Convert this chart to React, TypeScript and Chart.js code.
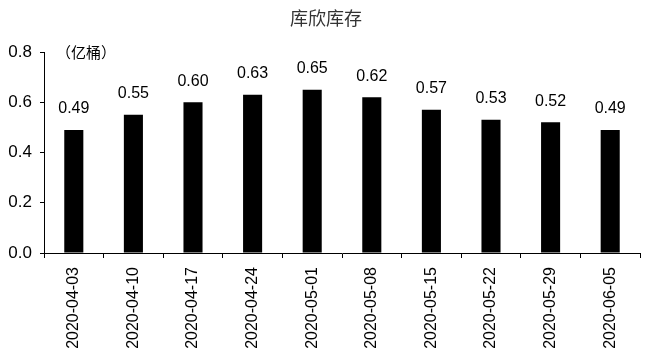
import React, { useEffect, useRef } from "react";
import { Chart, registerables } from "chart.js";

Chart.register(...registerables);

const categories = [
  "2020-04-03", "2020-04-10", "2020-04-17", "2020-04-24", "2020-05-01",
  "2020-05-08", "2020-05-15", "2020-05-22", "2020-05-29", "2020-06-05",
];
const inventory = [0.49, 0.55, 0.6, 0.63, 0.65, 0.62, 0.57, 0.53, 0.52, 0.49];
const titleText = "库欣库存";
const unitText = "（亿桶）";

const FONT = "'Liberation Sans', Arial, sans-serif";
const CJK = "'Noto Sans CJK SC', sans-serif";

const overlayPlugin = {
  id: "overlay",
  afterDatasetsDraw(chart: any) {
    const ctx = chart.ctx;
    const meta = chart.getDatasetMeta(0);
    ctx.save();
    ctx.fillStyle = "#000";
    ctx.font = `16px ${FONT}`;
    ctx.textAlign = "center";
    ctx.textBaseline = "middle";
    meta.data.forEach((bar: any, i: number) => {
      ctx.fillText(inventory[i].toFixed(2), bar.x, bar.y - 21);
    });
    // title
    ctx.fillStyle = "#333";
    ctx.font = `18px ${CJK}`;
    ctx.fillText(titleText, 326, 18);
    // unit
    ctx.fillStyle = "#000";
    ctx.font = `15px ${CJK}`;
    ctx.textAlign = "left";
    ctx.fillText(unitText, 56, 52);
    ctx.restore();
  },
};

export default function App() {
  const ref = useRef<HTMLCanvasElement | null>(null);
  useEffect(() => {
    document.body.style.margin = "0";
    const chart = new Chart(ref.current as HTMLCanvasElement, {
      type: "bar",
      data: {
        labels: categories,
        datasets: [
          {
            data: inventory,
            backgroundColor: "#000",
            borderWidth: 0,
            categoryPercentage: 1,
            barPercentage: 0.32,
          },
        ],
      },
      options: {
        animation: false,
        responsive: false,
        maintainAspectRatio: false,
        layout: { padding: { top: 52, right: 10, left: 0, bottom: 0 } },
        plugins: {
          legend: { display: false },
          title: { display: false },
          tooltip: { enabled: false },
        },
        scales: {
          x: {
            offset: true,
            grid: {
              offset: true,
              drawOnChartArea: false,
              drawTicks: true,
              tickLength: 5,
              color: "#000",
            },
            border: { color: "#000", width: 1 },
            ticks: {
              maxRotation: 90,
              minRotation: 90,
              color: "#000",
              padding: 9,
              font: { size: 16, family: FONT },
            },
            afterFit: (s: any) => {
              s.height = 107;
            },
          },
          y: {
            min: 0,
            max: 0.8,
            grid: {
              drawOnChartArea: false,
              drawTicks: true,
              tickLength: 4,
              color: "#000",
            },
            border: { color: "#000", width: 1 },
            ticks: {
              stepSize: 0.2,
              color: "#000",
              padding: 8,
              font: { size: 17, family: FONT },
              callback: (v: any) => Number(v).toFixed(1),
            },
            afterFit: (s: any) => {
              s.width = 44;
            },
          },
        },
      },
      plugins: [overlayPlugin],
    });
    return () => chart.destroy();
  }, []);
  return (
    <div style={{ position: "absolute", left: 0, top: 0, width: 650, height: 360 }}>
      <canvas ref={ref} width={650} height={360} />
    </div>
  );
}
